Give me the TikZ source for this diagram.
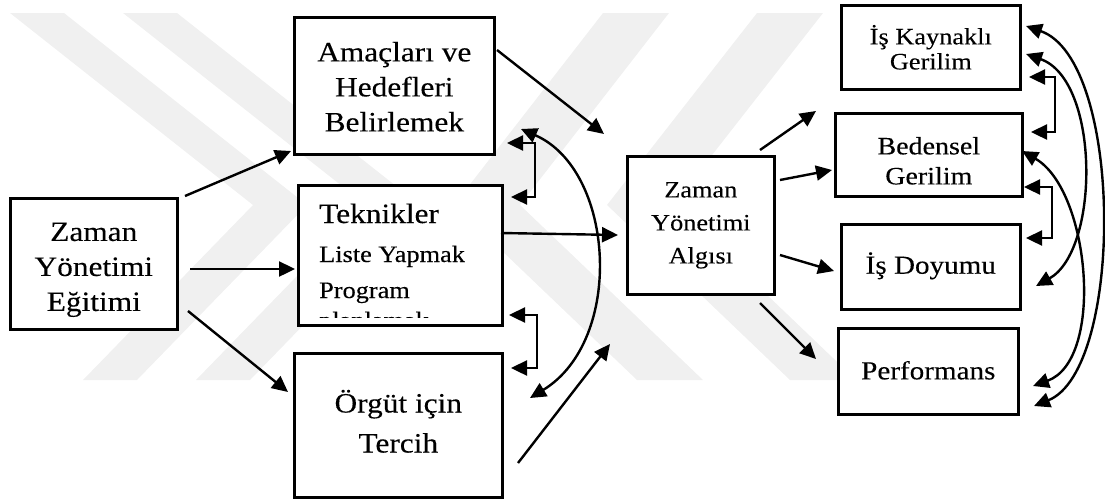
\documentclass[tikz,border=0pt]{standalone}
\usepackage{fontspec}
\setmainfont{Liberation Serif}[FakeStretch=1.12,FakeBold=0.2]
\usetikzlibrary{arrows.meta,calc}
\begin{document}
\begin{tikzpicture}[x=1pt,y=-1pt,
  box/.style={draw, fill=white, line width=2.6pt, inner sep=0pt, anchor=north west},
  txt/.style={inner sep=0pt, align=center},
  arr/.style={line width=2.4pt, -{Triangle[length=16pt,width=15pt]}},
  darr/.style={line width=2.4pt, {Triangle[length=16pt,width=15pt]}-{Triangle[length=16pt,width=15pt]}},
  wm/.style={fill=black!6, draw=none},
  fA/.style={font=\fontsize{28}{35}\selectfont},
  fB/.style={font=\fontsize{23.5}{33}\selectfont}]
\useasboundingbox (0,0) rectangle (1105,499);
% faint watermark
\fill[wm] (10,13) -- (64,13) -- (307,205) -- (137,380) -- (83,380) -- (253,205) -- cycle;
\fill[wm] (123,13) -- (177,13) -- (420,205) -- (250,380) -- (196,380) -- (366,205) -- cycle;
\fill[wm] (757,13) -- (823,13) -- (673,205) -- (856,380) -- (790,380) -- (607,205) -- cycle;
\fill[wm] (603,13) -- (669,13) -- (520,205) -- (703,380) -- (637,380) -- (454,205) -- cycle;
% boxes
\node[box, minimum width=167pt, minimum height=131pt] (zye) at (9,197) {};
\node[box, minimum width=200pt, minimum height=137pt] (amac) at (293,16) {};
\node[box, minimum width=204pt, minimum height=140pt] (tek) at (297,184) {};
\node[box, minimum width=208pt, minimum height=144pt] (org) at (293,352) {};
\node[box, minimum width=147pt, minimum height=138pt] (zya) at (626,155) {};
\node[box, minimum width=179pt, minimum height=84pt] (isk) at (840,4) {};
\node[box, minimum width=187pt, minimum height=83pt] (bed) at (834,112) {};
\node[box, minimum width=179pt, minimum height=85pt] (isd) at (840,223) {};
\node[box, minimum width=180pt, minimum height=86pt] (perf) at (837,327) {};
% texts
\node[txt, fA] (zyeT) at ($(zye.center)+(0,6)$) {Zaman\\Yönetimi\\Eğitimi};
\node[txt, fA] (amacT) at ($(amac.center)+(0,1)$) {Amaçları ve\\Hedefleri\\Belirlemek};
\node[txt, font=\fontsize{28}{40}\selectfont] (orgT) at ($(org.center)+(0,-4)$) {Örgüt için\\Tercih};
\node[txt, fB] (zyaT) at (zya.center) {Zaman\\Yönetimi\\Algısı};
\node[txt, font=\fontsize{23.5}{25}\selectfont] (iskT) at (isk.center) {İş Kaynaklı\\Gerilim};
\node[txt, font=\fontsize{25}{30}\selectfont] (bedT) at ($(bed.center)+(0,6)$) {Bedensel\\Gerilim};
\node[txt, font=\fontsize{26}{30}\selectfont] (isdT) at ($(isd.center)+(0,-1)$) {İş Doyumu};
\node[txt, font=\fontsize{26}{30}\selectfont] (perfT) at ($(perf.center)+(0,-1)$) {Performans};
% Teknikler text
\begin{scope}
\clip (299,186) rectangle (499,317);
\node[anchor=base west, inner sep=0pt, font=\fontsize{28}{30}\selectfont] (t1) at (319,223) {Teknikler};
\node[anchor=base west, inner sep=0pt, font=\fontsize{23.5}{30}\selectfont] (t2) at (319,262) {Liste Yapmak};
\node[anchor=base west, inner sep=0pt, font=\fontsize{23.5}{30}\selectfont] (t3) at (319,298) {Program};
\node[anchor=base west, inner sep=0pt, font=\fontsize{23.5}{30}\selectfont] (t4) at (319,328) {planlamak};
\end{scope}
% coordinates
\coordinate (a1s) at (185,196); \coordinate (a1e) at (291,151);
\coordinate (a2s) at (190,269); \coordinate (a2e) at (295,269);
\coordinate (a3s) at (188,311); \coordinate (a3e) at (288,392);
\coordinate (a4s) at (497,50);  \coordinate (a4e) at (604,134);
\coordinate (a5s) at (501,233); \coordinate (a5e) at (618,235);
\coordinate (a6s) at (518,463); \coordinate (a6e) at (610,344);
\coordinate (b1s) at (760,150); \coordinate (b1e) at (816,111);
\coordinate (b2s) at (780,180); \coordinate (b2e) at (832,170);
\coordinate (b3s) at (780,255); \coordinate (b3e) at (834,271);
\coordinate (b4s) at (760,303); \coordinate (b4e) at (816,359);
\coordinate (e1a) at (507,143); \coordinate (e1b) at (511,197);
\coordinate (e2a) at (509,315); \coordinate (e2b) at (511,368);
\coordinate (e3a) at (1029,77); \coordinate (e3b) at (1031,132);
\coordinate (e4a) at (1024,187); \coordinate (e4b) at (1026,238);
\coordinate (c1a) at (521,129); \coordinate (c1b) at (530,398);
\coordinate (rAa) at (1026,26); \coordinate (rAb) at (1034,406);
\coordinate (rBa) at (1026,54); \coordinate (rBb) at (1036,286);
\coordinate (rCa) at (1022,151); \coordinate (rCb) at (1033,386);
% straight arrows
\draw[arr] (a1s) -- (a1e);
\draw[arr] (a2s) -- (a2e);
\draw[arr] (a3s) -- (a3e);
\draw[arr] (a4s) -- (a4e);
\draw[arr] (a5s) -- (a5e);
\draw[arr] (a6s) -- (a6e);
\draw[arr] (b1s) -- (b1e);
\draw[arr] (b2s) -- (b2e);
\draw[arr] (b3s) -- (b3e);
\draw[arr] (b4s) -- (b4e);
% elbows
\draw[darr] (e1a) -- ++(28,0) |- (e1b);
\draw[darr] (e2a) -- ++(28,0) |- (e2b);
\draw[darr] (e3a) -- ++(26,0) |- (e3b);
\draw[darr] (e4a) -- ++(28,0) |- (e4b);
% curves
\draw[darr] (c1a) .. controls (615,170) and (625,340) .. (c1b);
\draw[darr] (rAa) .. controls (1124,60) and (1124,370) .. (rAb);
\draw[darr] (rBa) .. controls (1100,80) and (1100,250) .. (rBb);
\draw[darr] (rCa) .. controls (1090,190) and (1105,360) .. (rCb);
\end{tikzpicture}
\end{document}
